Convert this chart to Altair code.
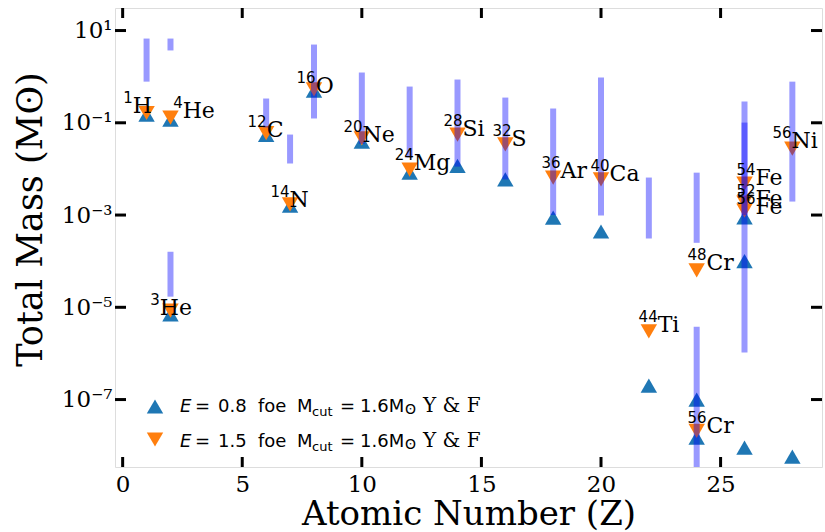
import altair as alt
import pandas as pd

# ---------------- data ----------------
# E = 0.8 foe (blue, upward triangles)
blue_z = [1, 2, 2, 6, 7, 8, 10, 12, 14, 16, 18, 20, 22, 24, 24, 26, 26, 26, 28]
blue_m = [0.151, 0.117, 7.0e-6, 0.055, 1.6e-3, 0.50, 0.039, 8.3e-3, 0.0117, 5.9e-3,
          8.8e-4, 4.4e-4, 2.0e-7, 1.0e-7, 1.5e-8, 8.9e-4, 1.0e-4, 9.1e-9, 5.8e-9]

# E = 1.5 foe (orange, downward triangles)
orange_z = [1, 2, 2, 6, 7, 8, 10, 12, 14, 16, 18, 20, 22, 24, 24, 26, 26, 26, 28]
orange_m = [0.163, 0.13, 8.5e-6, 0.06, 1.7e-3, 0.53, 0.046, 9.7e-3, 0.0556, 0.034,
            6.5e-3, 5.9e-3, 3.0e-6, 6.3e-5, 2.1e-8, 4.8e-3, 1.86e-3, 1.25e-3, 0.0275]

# ranges (lavender bars)
range_z = [1, 2, 2, 6, 7, 8, 10, 12, 14, 16, 18, 20, 22, 24, 24, 26, 26, 28]
range_hi = [6.7, 6.7, 1.6e-4, 0.336, 0.0556, 4.97, 1.23, 0.61, 0.867, 0.352, 0.204,
            0.957, 6.5e-3, 8.3e-3, 3.8e-6, 0.289, 0.101, 0.78]
range_lo = [0.78, 3.7, 1.7e-5, 0.0789, 0.0131, 0.124, 0.035, 0.0177, 0.0112, 5.9e-3,
            1.0e-3, 9.8e-4, 3.1e-4, 2.5e-4, 1e-9, 1.05e-6, 1.0e-3, 1.96e-3]

# isotope labels (anchor = start of element symbol, baseline)
label_mass = ["1", "4", "3", "12", "14", "16", "20", "24", "28", "32", "36", "40",
              "54", "52", "56", "56", "48", "44", "56"]
label_elem = ["H", "He", "He", "C", "N", "O", "Ne", "Mg", "Si", "S", "Ar", "Ca",
              "Fe", "Fe", "Fe", "Ni", "Cr", "Ti", "Cr"]
label_z = [0.42, 2.51, 1.55, 6.02, 6.98, 8.07, 10.03, 12.17, 14.21, 16.26, 18.31, 20.36,
           26.46, 26.46, 26.46, 27.97, 24.41, 22.37, 24.41]
label_m = [0.167, 0.124, 6.97e-6, 0.0504, 1.53e-3, 0.453, 0.0392, 9.7e-3, 0.053, 0.0321,
           6.5e-3, 5.6e-3, 4.58e-3, 1.61e-3, 1.08e-3, 0.029, 6.58e-5, 2.98e-6, 1.93e-8]

x_ticks = [0, 5, 10, 15, 20, 25]
y_ticks = [10, 0.1, 1e-3, 1e-5, 1e-7]

legend_energy = ["0.8", "1.5"]

# ---------------- layout ----------------
W, H = 707, 459
SERIF = "DejaVu Serif"
SANS = "DejaVu Sans"
BLUE = "#1f77b4"
ORANGE = "#ff7f0e"

x_scale = alt.Scale(domain=[-0.32, 29.24], nice=False, zero=False)
y_scale = alt.Scale(type="log", domain=[3.45e-9, 30.8], nice=False)

x_axis = alt.Axis(values=x_ticks, ticks=False, domain=False, grid=False,
                  labelFont=SERIF, labelFontSize=23, labelPadding=6, labelColor="black",
                  title="Atomic Number (Z)", titleFont=SERIF, titleFontSize=34,
                  titleFontWeight="normal", titleColor="black", titleBaseline="alphabetic",
                  titleAlign="center", titleX=W / 2, titleY=57)
y_axis = alt.Axis(values=y_ticks, ticks=False, domain=False, grid=False,
                  labelFont=SERIF, labelFontSize=23, labelPadding=3, labelColor="black",
                  labelExpr=("datum.value >= 5 ? '10¹' : datum.value >= 0.05 ? '10⁻¹' : "
                             "datum.value >= 5e-4 ? '10⁻³' : datum.value >= 5e-6 ? '10⁻⁵' : '10⁻⁷'"),
                  title="Total Mass (Mʘ)", titleFont=SERIF, titleFontSize=35,
                  titleFontWeight="normal", titleColor="black", titleAngle=270,
                  titleBaseline="alphabetic", titleAlign="center", titleX=-74, titleY=211)


def X(field):
    return alt.X(field, type="quantitative", scale=x_scale, axis=x_axis)


def Y(field):
    return alt.Y(field, type="quantitative", scale=y_scale, axis=y_axis)


blue_df = pd.DataFrame({"z": blue_z, "m": blue_m})
orange_df = pd.DataFrame({"z": orange_z, "m": orange_m})
range_df = pd.DataFrame({"z": range_z, "lo": range_lo, "hi": range_hi})
label_df = pd.DataFrame({"z": label_z, "m": label_m, "mass": label_mass, "elem": label_elem})

blue = alt.Chart(blue_df).mark_point(shape="triangle-up", filled=True, size=270,
                                     color=BLUE, opacity=1, strokeWidth=0).encode(
    x=X("z"), y=Y("m"))
orange = alt.Chart(orange_df).mark_point(shape="triangle-down", filled=True, size=270,
                                         color=ORANGE, opacity=1, strokeWidth=0).encode(
    x=X("z"), y=Y("m"))
bars = alt.Chart(range_df).mark_rule(strokeWidth=6, color="#0000ff", opacity=0.4,
                                     clip=True).encode(
    x=X("z"), y=Y("lo"), y2="hi")

sup = alt.Chart(label_df).mark_text(font=SANS, fontSize=15, align="right",
                                    baseline="alphabetic", dy=-10, color="black").encode(
    x=X("z"), y=Y("m"), text="mass")
elem = alt.Chart(label_df).mark_text(font=SERIF, fontSize=22, align="left",
                                     baseline="alphabetic", color="black").encode(
    x=X("z"), y=Y("m"), text="elem")

# inward ticks on all four sides
xt = pd.DataFrame({"v": x_ticks})
yt = pd.DataFrame({"v": y_ticks})
tick_style = dict(strokeWidth=3, color="black")
ticks_bottom = alt.Chart(xt).mark_rule(**tick_style).encode(
    x=X("v"), y=alt.value(H), y2=alt.value(H - 10))
ticks_top = alt.Chart(xt).mark_rule(**tick_style).encode(
    x=X("v"), y=alt.value(0), y2=alt.value(10))
ticks_left = alt.Chart(yt).mark_rule(**tick_style).encode(
    y=Y("v"), x=alt.value(0), x2=alt.value(11))
ticks_right = alt.Chart(yt).mark_rule(**tick_style).encode(
    y=Y("v"), x=alt.value(W), x2=alt.value(W - 11))

# ---------------- manual legend ----------------
one = pd.DataFrame({"a": [0]})


def txt(s, x, y, font=SANS, size=18, style="normal"):
    return alt.Chart(one).mark_text(text=s, font=font, fontSize=size, fontStyle=style,
                                    align="left", baseline="alphabetic",
                                    color="black").encode(x=alt.value(x), y=alt.value(y))


legend_layers = []
rows = [(398.5, 404.0, "triangle-up", BLUE, legend_energy[0]),
        (431.5, 438.5, "triangle-down", ORANGE, legend_energy[1])]
for ym, yb, shape, col, en in rows:
    legend_layers.append(
        alt.Chart(one).mark_point(shape=shape, filled=True, size=270, color=col,
                                  opacity=1, strokeWidth=0).encode(
            x=alt.value(40), y=alt.value(ym)))
    legend_layers += [
        txt("E", 65, yb, style="italic"),
        txt("=", 80, yb),
        txt(en, 103, yb),
        txt("foe", 143, yb),
        txt("M", 182, yb),
        txt("cut", 197, yb + 4, size=13),
        txt("=", 225, yb),
        txt("1.6M", 245, yb),
        txt("ʘ", 290, yb + 2, size=14),
        txt("Y & F", 308, yb, font=SERIF, size=20),
    ]

chart = alt.layer(
    blue, orange, bars, sup, elem,
    ticks_bottom, ticks_top, ticks_left, ticks_right,
    *legend_layers
).properties(
    width=W, height=H,
    autosize=alt.AutoSizeParams(type="none"),
    padding={"left": 115, "top": 8, "right": 3, "bottom": 65},
).configure_view(
    stroke="black", strokeWidth=4
).configure(background="white")

chart.save("out.html", embed_options={"renderer": "svg", "actions": False})
